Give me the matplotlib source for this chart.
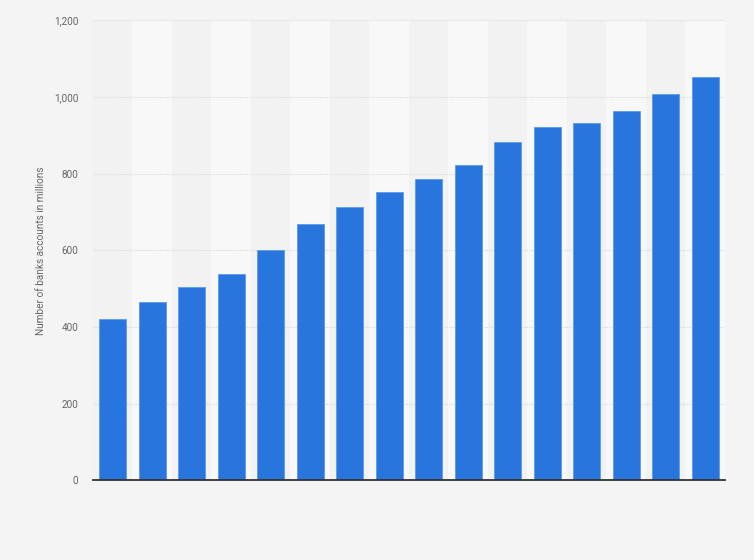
import matplotlib
matplotlib.use("Agg")
import matplotlib.pyplot as plt
from matplotlib.ticker import FuncFormatter

plt.rcParams['font.family'] = ['Roboto', 'DejaVu Sans']

categories = [str(i) for i in range(1, 17)]
values = [422, 466, 505, 539, 601, 669, 713, 752, 786, 822, 882, 921, 932, 963, 1009, 1053]
yticks = [0, 200, 400, 600, 800, 1000, 1200]
ylabel = "Number of banks accounts in millions"

fig = plt.figure(figsize=(7.54, 5.6), dpi=100, facecolor="#f4f4f4")
ax = fig.add_axes([0.1233, 0.142, 0.8382, 0.8217])
ax.set_facecolor("#f2f2f2")

x = list(range(len(values)))
for i in x:
    if i % 2 == 1:
        ax.axvspan(i - 0.5, i + 0.5, color="#f8f8f8", zorder=0, lw=0)

ax.bar(x, values, width=0.68, color="#2876dd", edgecolor="#5b9be9", linewidth=0.6, zorder=3)

ax.set_xlim(-0.5, len(values) - 0.5)
ax.set_ylim(0, 1200)
ax.set_yticks(yticks)
ax.yaxis.set_major_formatter(FuncFormatter(lambda v, p: f"{int(v):,}"))
ax.set_xticks([])
ax.grid(axis="y", color="#d9d9d9", linestyle=(0, (1, 1)), linewidth=0.8, zorder=1)
ax.tick_params(axis="y", length=0, pad=10.5, labelsize=7.2, labelcolor="#666666")
for s in ["top", "right", "left"]:
    ax.spines[s].set_visible(False)
ax.spines["bottom"].set_color("#333333")
ax.spines["bottom"].set_linewidth(1.3)
ax.spines["bottom"].set_zorder(4)

ax.set_ylabel(ylabel, fontsize=7.2, color="#666666")
ax.yaxis.set_label_coords(-0.075, 0.5)

fig.savefig("out.png", dpi=100, facecolor=fig.get_facecolor())
